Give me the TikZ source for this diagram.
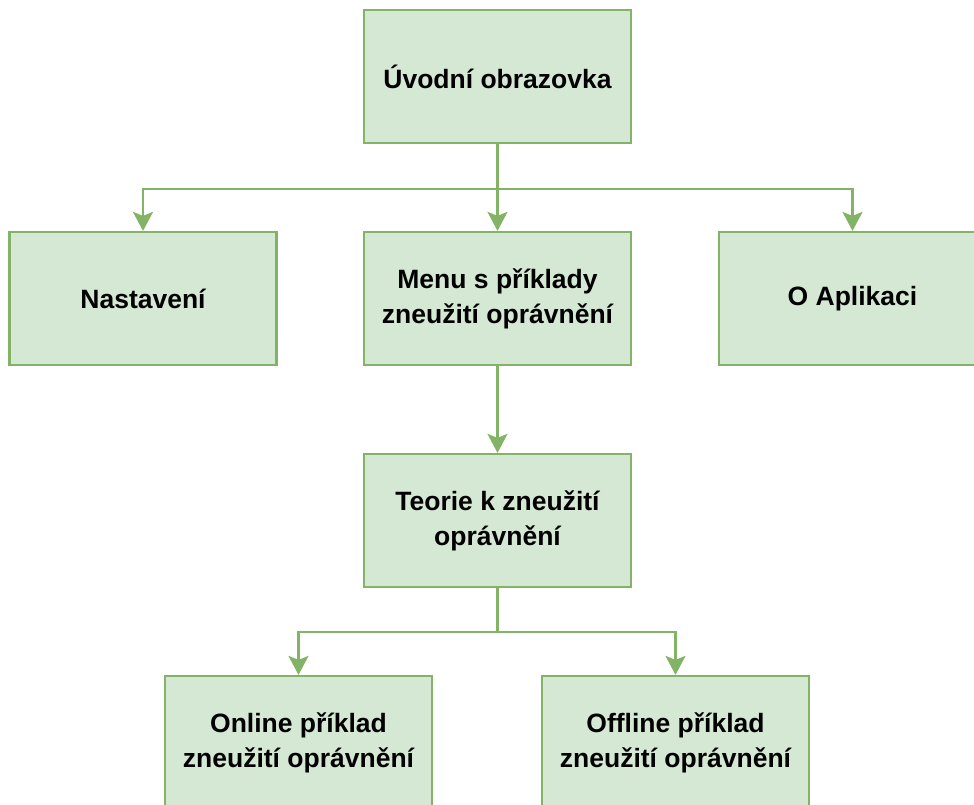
\documentclass[tikz,border=0pt]{standalone}
\usepackage{fontspec}
\setmainfont{Liberation Sans}
\usetikzlibrary{arrows.meta}
\definecolor{boxfill}{HTML}{D5E8D4}
\definecolor{boxline}{HTML}{82B366}
\begin{document}
\begin{tikzpicture}[x=1pt,y=-1pt,
  screen/.style={draw=boxline,fill=boxfill,line width=2.2pt,
    minimum width=267pt,minimum height=133pt,inner sep=0pt,
    align=center,font=\fontsize{26.5}{35}\selectfont\bfseries},
  link/.style={draw=boxline,line width=2.2pt,
    -{Stealth[length=19pt,width=20pt,inset=4pt]}}]
\useasboundingbox (0,0) rectangle (974,805);
\node[screen] (uvod)  at (497.5,76.5)  {Úvodní obrazovka};
\node[screen] (nast)  at (143,298.5)   {Nastavení};
\node[screen] (menu)  at (497.5,298.5) {Menu s příklady\\zneužití oprávnění};
\node[screen] (about) at (852.5,298.5) {O Aplikaci};
\node[screen] (teorie) at (497.5,520.5) {Teorie k zneužití\\oprávnění};
\node[screen] (online)  at (298.5,742.5) {Online příklad\\zneužití oprávnění};
\node[screen] (offline) at (675.5,742.5) {Offline příklad\\zneužití oprávnění};
% branches from the start screen
\draw[link] (uvod.south) -- ++(0,45) -| (nast.north);
\draw[link] (uvod.south) -- (menu.north);
\draw[link] (uvod.south) -- ++(0,45) -| (about.north);
% menu leads to the theory screen
\draw[link] (menu.south) -- (teorie.north);
% theory branches into the two examples
\draw[link] (teorie.south) -- ++(0,44) -| (online.north);
\draw[link] (teorie.south) -- ++(0,44) -| (offline.north);
\end{tikzpicture}
\end{document}
